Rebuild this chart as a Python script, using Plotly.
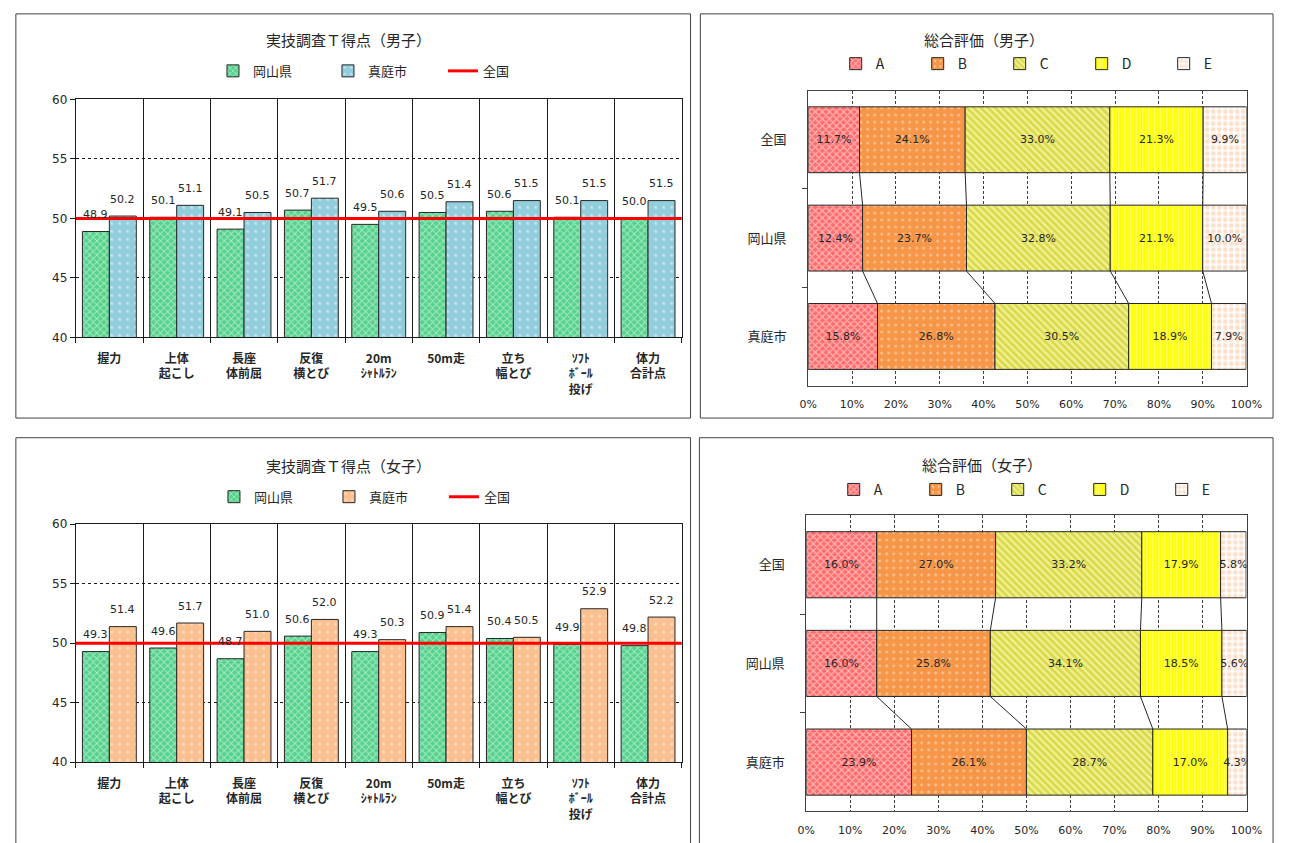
import plotly.graph_objects as go

W, H = 1292, 843

# ---- T-scores by event -------------------------------------------------
EVENTS = ["握力", "上体<br>起こし", "長座<br>体前屈", "反復<br>横とび", "20m<br>ｼｬﾄﾙﾗﾝ",
          "50m走", "立ち<br>幅とび", "ｿﾌﾄ<br>ﾎﾞｰﾙ<br>投げ", "体力<br>合計点"]
NATIONAL_T = 50.0
BOYS_OKAYAMA = [48.9, 50.1, 49.1, 50.7, 49.5, 50.5, 50.6, 50.1, 50.0]
BOYS_MANIWA = [50.2, 51.1, 50.5, 51.7, 50.6, 51.4, 51.5, 51.5, 51.5]
GIRLS_OKAYAMA = [49.3, 49.6, 48.7, 50.6, 49.3, 50.9, 50.4, 49.9, 49.8]
GIRLS_MANIWA = [51.4, 51.7, 51.0, 52.0, 50.3, 51.4, 50.5, 52.9, 52.2]

# ---- overall grade distribution (%) : 全国, 岡山県, 真庭市 ---------------
REGIONS = ["全国", "岡山県", "真庭市"]
GRADES = ["A", "B", "C", "D", "E"]
BOYS_A = [11.7, 12.4, 15.8]
BOYS_B = [24.1, 23.7, 26.8]
BOYS_C = [33.0, 32.8, 30.5]
BOYS_D = [21.3, 21.1, 18.9]
BOYS_E = [9.9, 10.0, 7.9]
GIRLS_A = [16.0, 16.0, 23.9]
GIRLS_B = [27.0, 25.8, 26.1]
GIRLS_C = [33.2, 34.1, 28.7]
GIRLS_D = [17.9, 18.5, 17.0]
GIRLS_E = [5.8, 5.6, 4.3]
PCT_TICKS = list(range(0, 101, 10))

FONT = "DejaVu Sans, Noto Sans CJK JP, sans-serif"
JP_FONT = "Noto Sans CJK JP, sans-serif"
INK = "#262626"
AXIS = "#1a1a1a"

GREEN = "#55d28c"
BLUE = "#92cddc"
PEACH = "#fac090"

GRADE_STYLES = [
    dict(color="#ff6b6b", fg="#ffffff", shape="x", size=5, solidity=0.45),
    dict(color="#f79646", fg="#ffffff", shape=".", size=7, solidity=0.12),
    dict(color="#f0f090", fg="#bfbf00", shape="\\", size=5, solidity=0.5),
    dict(color="#ffff00", fg="#fffff0", shape="|", size=3, solidity=0.35),
    dict(color="#ffffff", fg="#fbbf95", shape=".", size=6, solidity=0.5),
]


def px_x(p):
    return p / W


def px_y(p):
    return 1 - p / H


fig = go.Figure()
annotations = []
shapes = []


def axis_names(n):
    return ("x" if n == 1 else f"x{n}"), ("y" if n == 1 else f"y{n}")


def tscore_panel(n, okayama, maniwa, maniwa_color, legend_id):
    xa, ya = axis_names(n)
    xs = list(range(len(EVENTS)))
    fig.add_trace(go.Bar(
        x=xs, y=okayama, width=0.4, offset=-0.4, xaxis=xa, yaxis=ya,
        name="岡山県", legend=legend_id,
        marker=dict(color=GREEN, line=dict(color=INK, width=1),
                    pattern=dict(shape="x", fgcolor="#ffffff", bgcolor=GREEN,
                                 size=5, solidity=0.35, fillmode="overlay")),
    ))
    fig.add_trace(go.Bar(
        x=xs, y=maniwa, width=0.4, offset=0.0, xaxis=xa, yaxis=ya,
        name="真庭市", legend=legend_id,
        marker=dict(color=maniwa_color, line=dict(color=INK, width=1),
                    pattern=dict(shape=".", fgcolor="#ffffff", bgcolor=maniwa_color,
                                 size=8, solidity=0.1, fillmode="overlay")),
    ))
    fig.add_trace(go.Scatter(
        x=[None], y=[None], mode="lines", xaxis=xa, yaxis=ya,
        name="全国", legend=legend_id, line=dict(color="#ff0000", width=3),
    ))
    shapes.append(dict(type="line", xref=f"{xa} domain", x0=0, x1=1,
                       yref=ya, y0=NATIONAL_T, y1=NATIONAL_T,
                       line=dict(color="#ff0000", width=3), layer="above"))
    for i in xs:
        for val, dx in ((okayama[i], -0.2), (maniwa[i], 0.2)):
            annotations.append(dict(
                x=i + dx, y=val, xref=xa, yref=ya, text=f"{val:.1f}",
                showarrow=False, yshift=17,
                font=dict(family=FONT, size=11, color=INK)))


def grade_panel(n, series, legend_id):
    xa, ya = axis_names(n)
    ys = list(range(len(REGIONS)))
    starts = [0.0] * len(REGIONS)
    bounds = []
    for grade, vals, st in zip(GRADES, series, GRADE_STYLES):
        fig.add_trace(go.Bar(
            x=vals, y=ys, base=list(starts), orientation="h",
            width=0.67, offset=-0.335, xaxis=xa, yaxis=ya,
            name=grade, legend=legend_id,
            text=[f"{v:.1f}%" for v in vals], textposition="inside",
            insidetextanchor="middle", textangle=0,
            insidetextfont=dict(family=FONT, size=11, color=INK),
            marker=dict(color=st["color"], line=dict(color=INK, width=1),
                        pattern=dict(shape=st["shape"], fgcolor=st["fg"],
                                     bgcolor=st["color"], size=st["size"],
                                     solidity=st["solidity"], fillmode="overlay")),
        ))
        starts = [s + v for s, v in zip(starts, vals)]
        bounds.append(list(starts))
    # series lines joining the segment boundaries of neighbouring bars
    lx, ly = [], []
    for b in bounds[:-1]:
        for r in range(len(REGIONS) - 1):
            lx += [b[r], b[r + 1], None]
            ly += [r + 0.335, r + 1 - 0.335, None]
    fig.add_trace(go.Scatter(x=lx, y=ly, mode="lines", xaxis=xa, yaxis=ya,
                             showlegend=False, hoverinfo="skip",
                             line=dict(color=INK, width=1)))


tscore_panel(1, BOYS_OKAYAMA, BOYS_MANIWA, BLUE, "legend")
grade_panel(2, [BOYS_A, BOYS_B, BOYS_C, BOYS_D, BOYS_E], "legend2")
tscore_panel(3, GIRLS_OKAYAMA, GIRLS_MANIWA, PEACH, "legend3")
grade_panel(4, [GIRLS_A, GIRLS_B, GIRLS_C, GIRLS_D, GIRLS_E], "legend4")


def tscore_axes(n, xpx, ypx):
    xa, ya = axis_names(n)
    xs = list(range(len(EVENTS)))
    xaxis = dict(
        domain=[px_x(xpx[0]), px_x(xpx[1])], anchor=ya, range=[-0.5, len(EVENTS) - 0.5],
        tickmode="array", tickvals=xs, ticktext=EVENTS, ticks="",
        showline=True, linecolor=AXIS, linewidth=1, mirror=True,
        showgrid=False, zeroline=False, ticklabelstandoff=10,
        tickfont=dict(family=JP_FONT, size=12, color=INK, weight="bold"),
        minor=dict(tickvals=[i - 0.5 for i in range(len(EVENTS) + 1)], ticks="outside",
                   ticklen=5, tickcolor=AXIS, showgrid=True, gridcolor=AXIS, gridwidth=1),
    )
    yaxis = dict(
        domain=[px_y(ypx[1]), px_y(ypx[0])], anchor=xa, range=[40, 60],
        tick0=40, dtick=5, ticks="outside", ticklen=5, tickcolor=AXIS,
        showline=True, linecolor=AXIS, linewidth=1, mirror=True,
        showgrid=True, gridcolor=AXIS, gridwidth=1, griddash="dot", zeroline=False,
        tickfont=dict(family=FONT, size=12, color=INK),
    )
    return xaxis, yaxis


def grade_axes(n, xpx, ypx):
    xa, ya = axis_names(n)
    xaxis = dict(
        domain=[px_x(xpx[0]), px_x(xpx[1])], anchor=ya, range=[0, 100],
        tickmode="array", tickvals=PCT_TICKS, ticktext=[f"{v}%" for v in PCT_TICKS],
        ticks="",
        showline=True, linecolor="#404040", linewidth=1, mirror=True,
        showgrid=True, gridcolor="#404040", gridwidth=1, griddash="3px,2px",
        zeroline=False, ticklabelstandoff=8,
        tickfont=dict(family=FONT, size=11, color=INK),
    )
    yaxis = dict(
        domain=[px_y(ypx[1]), px_y(ypx[0])], anchor=xa, range=[2.5, -0.5],
        tickmode="array", tickvals=list(range(len(REGIONS))), ticktext=REGIONS, ticks="",
        showline=True, linecolor="#404040", linewidth=1, mirror=True,
        showgrid=False, zeroline=False, ticklabelstandoff=18,
        tickfont=dict(family=JP_FONT, size=13, color=INK),
        minor=dict(tickvals=[0.5, 1.5], ticks="outside", ticklen=5, tickcolor="#404040"),
    )
    return xaxis, yaxis


x1, y1 = tscore_axes(1, (68, 686), (94, 336))
x2, y2 = grade_axes(2, (815, 1262), (85, 385))
x3, y3 = tscore_axes(3, (68, 686), (526, 768))
x4, y4 = grade_axes(4, (813, 1262), (517, 818))

# panel frames
for (l, t, r, b) in [(7, 7, 695, 418), (705, 7, 1289, 418),
                     (7, 438, 695, 860), (704, 438, 1289, 860)]:
    shapes.append(dict(type="rect", xref="paper", yref="paper",
                       x0=px_x(l), x1=px_x(r), y0=px_y(b), y1=px_y(t),
                       line=dict(color="#404040", width=1), layer="below"))

# panel titles
for text, cx, cy in [("実技調査Ｔ得点（男子）", 346, 33), ("総合評価（男子）", 994, 33),
                     ("実技調査Ｔ得点（女子）", 346, 466), ("総合評価（女子）", 992, 465)]:
    annotations.append(dict(text=text, x=px_x(cx), y=px_y(cy), xref="paper", yref="paper",
                            showarrow=False, xanchor="center", yanchor="middle",
                            font=dict(family=JP_FONT, size=15, color=INK)))


def legend_box(lx, cy, width, size):
    return dict(orientation="h", x=px_x(lx), y=px_y(cy), xanchor="left", yanchor="middle",
                entrywidth=width, entrywidthmode="pixels", traceorder="normal",
                bgcolor="rgba(0,0,0,0)", borderwidth=0,
                font=dict(family=JP_FONT, size=size, color=INK))


fig.update_layout(
    width=W, height=H, margin=dict(l=0, r=0, t=0, b=0),
    paper_bgcolor="white", plot_bgcolor="white",
    barmode="overlay", showlegend=True,
    uniformtext=dict(minsize=11, mode="show"),
    xaxis=x1, yaxis=y1, xaxis2=x2, yaxis2=y2,
    xaxis3=x3, yaxis3=y3, xaxis4=x4, yaxis4=y4,
    legend=legend_box(208, 65, 70, 13),
    legend2=legend_box(843, 58, 37, 14),
    legend3=legend_box(209, 498, 70, 13),
    legend4=legend_box(841, 491, 37, 14),
    annotations=annotations, shapes=shapes,
)

# pin the chart to the top-left corner of the page
PAGE_SCRIPT = (
    "document.documentElement.style.margin='0';"
    "document.body.style.margin='0';"
    "document.body.style.overflow='hidden';"
    "var gd=document.getElementById('{plot_id}');"
    "gd.style.position='fixed';gd.style.left='0px';gd.style.top='0px';"
)

fig.write_html("out.html", post_script=PAGE_SCRIPT)
